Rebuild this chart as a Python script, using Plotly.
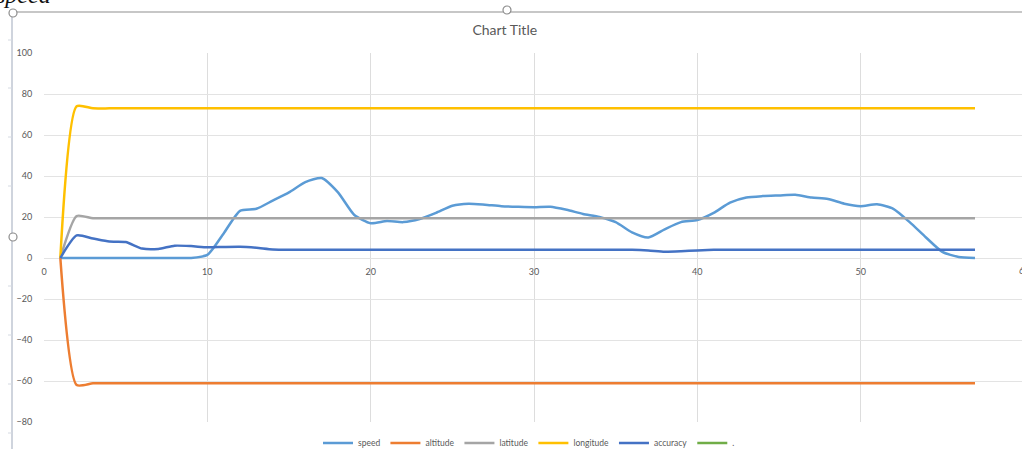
import plotly.graph_objects as go

# Sample index (x axis)
sample = list(range(1, 58))

speed = [0, 0, 0, 0, 0, 0, 0, 0, 0, 1.5,
         12, 23, 24, 28, 32, 37, 39, 32, 21, 17,
         18, 17.5, 19, 22, 25.5, 26.5, 26, 25.3, 25, 24.8,
         25, 23.5, 21.5, 20, 17.5, 12.5, 10, 14, 17.5, 18.5,
         22, 27, 29.5, 30.2, 30.5, 30.8, 29.5, 28.8, 26.5, 25.3,
         26.2, 24, 17.5, 10, 3, 0.5, 0]

altitude = [0, -62, -61.1, -61.1, -61.1, -61.1, -61.1, -61.1, -61.1, -61.1,
            -61.1, -61.1, -61.1, -61.1, -61.1, -61.1, -61.1, -61.1, -61.1, -61.1,
            -61.1, -61.1, -61.1, -61.1, -61.1, -61.1, -61.1, -61.1, -61.1, -61.1,
            -61.1, -61.1, -61.1, -61.1, -61.1, -61.1, -61.1, -61.1, -61.1, -61.1,
            -61.1, -61.1, -61.1, -61.1, -61.1, -61.1, -61.1, -61.1, -61.1, -61.1,
            -61.1, -61.1, -61.1, -61.1, -61.1, -61.1, -61.1]

latitude = [0, 20.5, 19.4, 19.4, 19.4, 19.4, 19.4, 19.4, 19.4, 19.4,
            19.4, 19.4, 19.4, 19.4, 19.4, 19.4, 19.4, 19.4, 19.4, 19.4,
            19.4, 19.4, 19.4, 19.4, 19.4, 19.4, 19.4, 19.4, 19.4, 19.4,
            19.4, 19.4, 19.4, 19.4, 19.4, 19.4, 19.4, 19.4, 19.4, 19.4,
            19.4, 19.4, 19.4, 19.4, 19.4, 19.4, 19.4, 19.4, 19.4, 19.4,
            19.4, 19.4, 19.4, 19.4, 19.4, 19.4, 19.4]

longitude = [0, 74, 73, 73, 73, 73, 73, 73, 73, 73,
             73, 73, 73, 73, 73, 73, 73, 73, 73, 73,
             73, 73, 73, 73, 73, 73, 73, 73, 73, 73,
             73, 73, 73, 73, 73, 73, 73, 73, 73, 73,
             73, 73, 73, 73, 73, 73, 73, 73, 73, 73,
             73, 73, 73, 73, 73, 73, 73]

accuracy = [0, 11, 9.5, 8, 7.8, 4.6, 4.4, 6, 5.8, 5.2,
            5.4, 5.5, 5, 4.2, 4, 4, 4, 4, 4, 4,
            4, 4, 4, 4, 4, 4, 4, 4, 4, 4,
            4, 4, 4, 4, 4, 4, 3.7, 3.1, 3.3, 3.7,
            4, 4, 4, 4, 4, 4, 4, 4, 4, 4,
            4, 4, 4, 4, 4, 4, 4]

dot_series = []  # the "." series carries no values

series_names = ["speed", "altitude", "latitude", "longitude", "accuracy", "."]
series_colors = ["#5B9BD5", "#ED7D31", "#A5A5A5", "#FFC000", "#4472C4", "#70AD47"]
series_values = [speed, altitude, latitude, longitude, accuracy, dot_series]

x_ticks = [0, 10, 20, 30, 40, 50, 60]
y_ticks = [-80, -60, -40, -20, 0, 20, 40, 60, 80, 100]

# Layout geometry (pixels)
W, H = 1022, 449
L, R, T, B = 44, 0, 53, 27
PW, PH = W - L - R, H - T - B
X_PER_UNIT = 980 / 60.0


def px(xp):
    return (xp - L) / PW


def py(yp):
    return (H - B - yp) / PH


FONT = "Lato, 'Open Sans', sans-serif"
TXT = "#595959"

fig = go.Figure()
for name, color, vals in zip(series_names, series_colors, series_values):
    if vals:
        fig.add_trace(go.Scatter(
            x=sample[:len(vals)], y=vals, name=name, mode="lines",
            line=dict(color=color, width=2.5, shape="spline", smoothing=0.6),
        ))
    else:
        fig.add_trace(go.Scatter(
            x=[None], y=[None], name=name, mode="lines",
            line=dict(color=color, width=2.5),
        ))

x_max = PW / X_PER_UNIT

fig.update_layout(
    width=W, height=H,
    margin=dict(l=L, r=R, t=T, b=B, pad=0, autoexpand=False),
    paper_bgcolor="white", plot_bgcolor="white",
    font=dict(family=FONT, color=TXT, size=9),
    title=dict(text="Chart Title", x=px(527), xanchor="center",
               y=1 - 30 / H, yanchor="middle",
               font=dict(family=FONT, size=14, color=TXT)),
    showlegend=True,
    legend=dict(orientation="h", x=px(529), xanchor="center",
                y=py(443), yanchor="middle",
                font=dict(family=FONT, size=8.5, color=TXT),
                itemwidth=30, tracegroupgap=0,
                bgcolor="rgba(0,0,0,0)"),
    xaxis=dict(range=[0, x_max], tickvals=x_ticks, showgrid=True,
               gridcolor="#DDDDDD", gridwidth=1, zeroline=False,
               showline=False, anchor="free", position=(0 - (-80)) / 180,
               ticks="outside", ticklen=5, tickcolor="rgba(0,0,0,0)",
               tickfont=dict(family=FONT, size=9, color=TXT)),
    yaxis=dict(range=[-80, 100], tickvals=y_ticks, showgrid=True,
               gridcolor="#E3E3E3", gridwidth=1, zeroline=False,
               showline=False,
               ticks="outside", ticklen=9, tickcolor="rgba(0,0,0,0)",
               tickfont=dict(family=FONT, size=9, color=TXT)),
)

# Tick label 60 sits at the right edge of the frame
fig.add_annotation(text="60", xref="paper", yref="paper",
                   x=px(44 + 60 * X_PER_UNIT), y=py(270),
                   xanchor="center", yanchor="middle", showarrow=False,
                   font=dict(family=FONT, size=9, color=TXT))

# Sheet caption above the chart frame
fig.add_annotation(text="<i>speed</i>", xref="paper", yref="paper",
                   x=px(-6), y=py(10), xanchor="left", yanchor="bottom",
                   showarrow=False,
                   font=dict(family="'Liberation Serif', serif", size=24,
                             color="#111111"))

# Chart frame edges with selection handles
frame_color = "#BFC6D2"
fig.add_shape(type="line", xref="paper", yref="paper",
              x0=px(12), x1=px(1022), y0=py(12), y1=py(12),
              line=dict(color="#B5B5B5", width=1.5))
fig.add_shape(type="line", xref="paper", yref="paper",
              x0=px(12), x1=px(12), y0=py(12), y1=py(449),
              line=dict(color=frame_color, width=1.5))
for tick_y in [40, 88, 137, 186, 286, 335, 384, 433]:
    fig.add_shape(type="line", xref="paper", yref="paper",
                  x0=px(8), x1=px(12), y0=py(tick_y), y1=py(tick_y),
                  line=dict(color="#D5DAE2", width=1))
for hx, hy in [(13, 13), (13, 237), (507, 10)]:
    fig.add_shape(type="circle", xref="paper", yref="paper",
                  x0=px(hx - 4), x1=px(hx + 4), y0=py(hy - 4), y1=py(hy + 4),
                  fillcolor="white", line=dict(color="#8C8C8C", width=1.2),
                  layer="above")

fig.write_html("out.html")
